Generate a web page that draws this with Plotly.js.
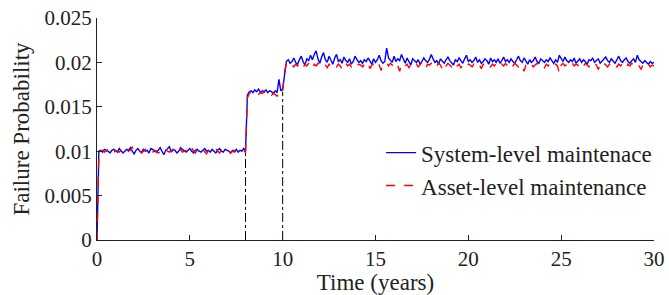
<!DOCTYPE html>
<html>
<head>
<meta charset="utf-8">
<script src="https://cdn.plot.ly/plotly-3.0.1.min.js"></script>
<style>html,body{margin:0;padding:0;background:#fff;}#chart{width:669px;height:295px;}</style>
</head>
<body>
<div id="chart"></div>
<script>
// time grid: start 0, step 0.1 years, 301 samples (0..30)
const timeStart = 0;
const timeStep = 0.1;

const seriesNames = ["System-level maintenace", "Asset-level maintenance"];

const systemLevel = [0,
.0100,.0101,.0099,.0102,.0101,.0100,.0098,.0101,.0102,.0100,
.0099,.0103,.0101,.0098,.0100,.0102,.0101,.0104,.0100,.0097,
.0101,.0103,.0100,.0099,.0102,.0100,.0101,.0098,.0103,.0102,
.0100,.0099,.0101,.0104,.0100,.0096,.0101,.0103,.0105,.0099,
.0102,.0101,.0098,.0100,.0104,.0102,.0100,.0099,.0101,.0103,
.0100,.0098,.0101,.0102,.0100,.0099,.0101,.0103,.0100,.0101,
.0099,.0102,.0100,.0098,.0101,.0103,.0100,.0099,.0102,.0101,
.0100,.0098,.0101,.0100,.0102,.0099,.0101,.0100,.0103,
.0100,
.0163,.0167,.0168,.0166,.0169,.0167,.0170,.0166,.0168,.0167,.0169,.0166,.0168,.0167,.0165,.0168,.0166,.0181,.0168,
.0170,.0186,.0201,
.0203,.0199,.0201,.0205,.0200,.0198,.0203,.0207,.0201,.0197,.0204,.0202,.0208,.0203,.0209,.0213,.0204,.0199,.0206,.0211,
.0203,.0200,.0207,.0202,.0198,.0205,.0209,.0201,.0203,.0199,.0206,.0202,.0200,.0204,.0198,.0201,.0207,.0203,.0200,.0202,
.0199,.0203,.0201,.0205,.0202,.0198,.0204,.0200,.0203,.0208,.0202,.0199,.0201,.0216,.0205,.0203,.0200,.0207,.0201,.0204,
.0202,.0209,.0203,.0199,.0205,.0201,.0197,.0204,.0202,.0200,.0203,.0198,.0201,.0205,.0202,.0200,.0203,.0209,.0204,.0200,
.0202,.0198,.0204,.0201,.0199,.0203,.0206,.0202,.0200,.0197,.0203,.0201,.0205,.0202,.0199,.0204,.0208,.0201,.0203,.0200,
.0202,.0206,.0200,.0203,.0199,.0201,.0204,.0202,.0198,.0205,.0201,.0203,.0200,.0204,.0199,.0202,.0206,.0201,.0203,.0200,
.0204,.0201,.0199,.0203,.0207,.0202,.0200,.0205,.0201,.0198,.0203,.0200,.0202,.0206,.0201,.0199,.0204,.0202,.0200,.0203,
.0201,.0205,.0202,.0199,.0203,.0200,.0208,.0204,.0201,.0206,.0202,.0200,.0203,.0201,.0205,.0199,.0202,.0204,.0200,.0203,
.0201,.0198,.0203,.0202,.0205,.0200,.0202,.0204,.0199,.0201,.0203,.0206,.0202,.0200,.0204,.0201,.0199,.0203,.0207,.0202,
.0200,.0203,.0205,.0201,.0199,.0202,.0204,.0200,.0208,.0203,.0201,.0199,.0202,.0200,.0198,.0201,.0199,.0200];

const assetLevel = [0,
.0099,.0100,.0101,.0099,.0100,.0102,.0099,.0100,.0098,.0101,
.0100,.0099,.0101,.0100,.0102,.0099,.0100,.0101,.0105,.0100,
.0099,.0101,.0100,.0098,.0100,.0102,.0099,.0101,.0100,.0099,
.0101,.0100,.0098,.0100,.0101,.0099,.0102,.0100,.0099,.0101,
.0100,.0098,.0101,.0100,.0102,.0099,.0100,.0101,.0099,.0100,
.0104,.0100,.0098,.0101,.0099,.0100,.0102,.0099,.0097,.0101,
.0100,.0099,.0101,.0103,.0100,.0098,.0101,.0100,.0099,.0101,
.0100,.0098,.0100,.0099,.0101,.0100,.0099,.0101,.0100,
.0099,
.0160,.0165,.0166,.0164,.0166,.0165,.0164,.0166,.0165,.0167,.0164,.0165,.0166,.0163,.0165,.0164,.0162,.0166,.0164,
.0168,.0190,.0198,
.0196,.0199,.0197,.0195,.0198,.0196,.0199,.0197,.0194,.0198,.0196,.0199,.0197,.0193,.0198,.0196,.0199,.0197,.0195,.0198,
.0197,.0194,.0198,.0196,.0199,.0197,.0195,.0198,.0196,.0192,.0197,.0199,.0196,.0198,.0195,.0197,.0199,.0196,.0198,.0197,
.0195,.0198,.0196,.0199,.0193,.0197,.0198,.0195,.0199,.0197,.0191,.0196,.0198,.0200,.0196,.0199,.0197,.0194,.0198,.0196,
.0190,.0197,.0199,.0196,.0198,.0194,.0197,.0199,.0196,.0198,.0195,.0197,.0200,.0196,.0193,.0198,.0197,.0199,.0195,.0198,
.0196,.0199,.0197,.0192,.0198,.0196,.0199,.0197,.0195,.0198,.0200,.0196,.0198,.0194,.0197,.0199,.0196,.0198,.0197,.0195,
.0198,.0196,.0199,.0197,.0193,.0198,.0196,.0199,.0197,.0195,.0198,.0196,.0199,.0197,.0195,.0198,.0196,.0199,.0197,.0194,
.0198,.0196,.0199,.0197,.0195,.0198,.0196,.0190,.0197,.0199,.0196,.0198,.0195,.0197,.0199,.0196,.0198,.0197,.0194,.0198,
.0196,.0199,.0197,.0195,.0198,.0196,.0188,.0197,.0199,.0196,.0198,.0195,.0197,.0199,.0196,.0198,.0197,.0194,.0198,.0196,
.0199,.0197,.0195,.0198,.0196,.0199,.0197,.0192,.0198,.0196,.0199,.0197,.0195,.0198,.0196,.0199,.0197,.0195,.0198,.0196,
.0199,.0197,.0194,.0198,.0196,.0199,.0197,.0195,.0198,.0196,.0192,.0197,.0199,.0196,.0198,.0195,.0197,.0196];

// vertical dash-dot markers at the maintenance change points
const markerX = [8, 10];
const markerTop = [0.0100, 0.0167];

const xTicks = [0, 5, 10, 15, 20, 25, 30];
const yTicks = [0, 0.005, 0.01, 0.015, 0.02, 0.025];
const yTickLabels = ["0", "0.005", "0.01", "0.015", "0.02", "0.025"];

const mx = [], my = [];
markerX.forEach((x, i) => { mx.push(x, x, null); my.push(0, markerTop[i], null); });

const FONT = "Liberation Serif, Times New Roman, serif";
const INK = "#222";

const traces = [
  {x: mx, y: my, mode: "lines", line: {color: "#000", width: 1, dash: "dashdot"}, showlegend: false, hoverinfo: "skip"},
  {y: systemLevel, x0: timeStart, dx: timeStep, mode: "lines", name: seriesNames[0],
   line: {color: "#0000ff", width: 1.4}},
  {y: assetLevel, x0: timeStart, dx: timeStep, mode: "lines", name: seriesNames[1],
   line: {color: "#ff0000", width: 1.4, dash: "dash"}}
];

const layout = {
  width: 669, height: 295,
  margin: {l: 97, r: 15, t: 18, b: 55},
  paper_bgcolor: "#fff", plot_bgcolor: "#fff",
  font: {family: FONT, size: 21, color: INK},
  showlegend: true,
  legend: {x: 0.51, y: 0.49, xanchor: "left", yanchor: "top", bgcolor: "rgba(0,0,0,0)",
           font: {family: FONT, size: 23, color: INK}, tracegroupgap: 0, itemwidth: 30},
  xaxis: {range: [0, 30], tickvals: xTicks, ticks: "inside", ticklen: 5, tickcolor: INK,
          showline: true, linecolor: INK, linewidth: 1, showgrid: false, zeroline: false,
          title: {text: "Time (years)", font: {family: FONT, size: 23, color: INK}, standoff: 0},
          tickfont: {family: FONT, size: 21, color: INK}},
  yaxis: {range: [0, 0.025], tickvals: yTicks, ticktext: yTickLabels, ticks: "inside", ticklen: 5, tickcolor: INK,
          showline: true, linecolor: INK, linewidth: 1, showgrid: false, zeroline: false,
          title: {text: "Failure Probability", font: {family: FONT, size: 23, color: INK}, standoff: 8},
          tickfont: {family: FONT, size: 21, color: INK}}
};

Plotly.newPlot("chart", traces, layout, {displayModeBar: false, staticPlot: true});
</script>
</body>
</html>
